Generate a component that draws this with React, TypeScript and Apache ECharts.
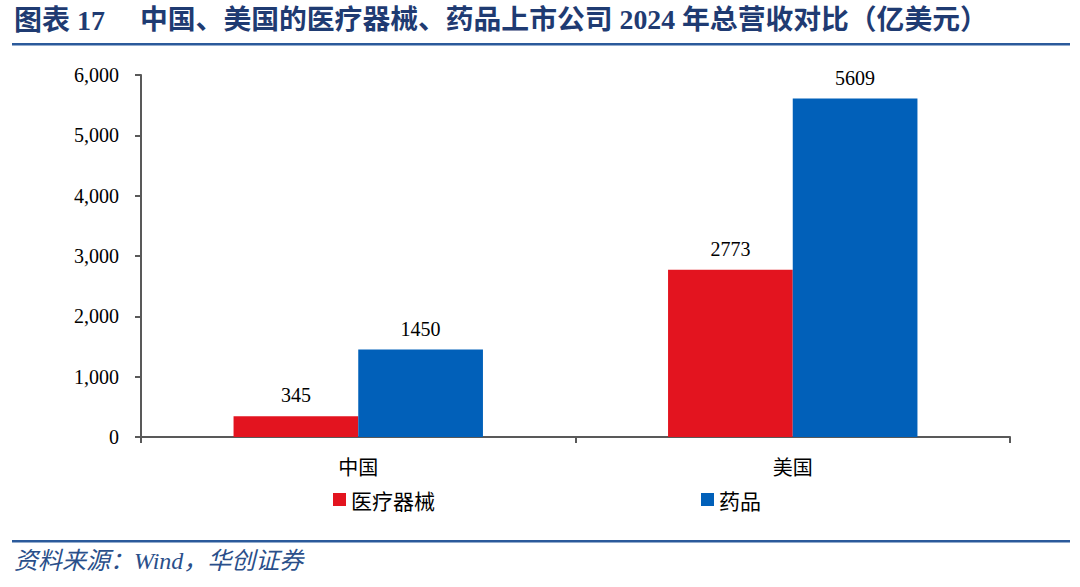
import React, { useEffect, useRef } from "react";
import * as echarts from "echarts";

const categories = ["中国", "美国"];
const seriesNames = ["医疗器械", "药品"];
const deviceValues = [345, 2773];
const drugValues = [1450, 5609];
const yTicks = [0, 1000, 2000, 3000, 4000, 5000, 6000];

const TITLE_NO = "图表 17";
const TITLE = "中国、美国的医疗器械、药品上市公司 2024 年总营收对比（亿美元）";
const SOURCE = "资料来源：Wind，华创证券";

export default function App() {
  const ref = useRef<HTMLDivElement>(null);
  useEffect(() => {
    document.body.style.margin = "0";
    const chart = echarts.init(ref.current!, null, { renderer: "svg" });
    const serif = "'Times New Roman', 'Liberation Serif', 'Noto Sans CJK SC', serif";
    const sans = "'Microsoft YaHei', 'Noto Sans CJK SC', sans-serif";
    chart.setOption({
      animation: false,
      backgroundColor: "#ffffff",
      grid: { left: 141, right: 70, top: 75, bottom: 150, containLabel: false },
      legend: {
        data: seriesNames,
        left: 328,
        top: 484,
        itemWidth: 13,
        itemHeight: 13,
        itemGap: 266,
        icon: "rect",
        textStyle: { fontFamily: sans, fontSize: 21, color: "#000" },
      },
      xAxis: {
        type: "category",
        data: categories,
        axisLine: { lineStyle: { color: "#595959", width: 2 } },
        axisTick: { show: true, length: 6, lineStyle: { color: "#595959", width: 2 } },
        axisLabel: { fontFamily: sans, fontSize: 20, color: "#000", margin: 19 },
      },
      yAxis: {
        type: "value",
        min: yTicks[0],
        max: yTicks[yTicks.length - 1],
        interval: 1000,
        splitLine: { show: false },
        axisLine: { show: true, lineStyle: { color: "#595959", width: 2 } },
        axisTick: { show: true, inside: false, length: 6, lineStyle: { color: "#595959", width: 2 } },
        axisLabel: {
          fontFamily: serif,
          fontSize: 20,
          color: "#000",
          margin: 22,
          formatter: (v: number) => v.toLocaleString("en-US"),
        },
      },
      series: [
        {
          name: seriesNames[0],
          type: "bar",
          data: deviceValues,
          barWidth: "28.7%",
          barGap: "0%",
          itemStyle: { color: "#e3141f" },
          label: { show: true, position: "top", distance: 11, fontFamily: serif, fontSize: 20, color: "#000" },
        },
        {
          name: seriesNames[1],
          type: "bar",
          data: drugValues,
          barWidth: "28.7%",
          barGap: "0%",
          itemStyle: { color: "#0160b9" },
          label: { show: true, position: "top", distance: 11, fontFamily: serif, fontSize: 20, color: "#000" },
        },
      ],
      graphic: [
        {
          type: "text",
          left: 14,
          top: 6,
          style: { text: TITLE_NO, font: `bold 28px ${serif}`, fill: "#1f3b72" },
        },
        {
          type: "text",
          left: 140,
          top: 6,
          style: { text: TITLE, font: `bold 27.8px ${serif}`, fill: "#1f3b72" },
        },
        {
          type: "rect",
          shape: { x: 12, y: 43, width: 1058, height: 2.5 },
          style: { fill: "#2b5a9b" },
        },
        {
          type: "rect",
          shape: { x: 12, y: 540, width: 1058, height: 2.5 },
          style: { fill: "#2b5a9b" },
        },
        {
          type: "text",
          left: 14,
          top: 549,
          style: { text: SOURCE, font: `italic 24px ${serif}`, fill: "#2a4f8a" },
        },
      ],
    });
    return () => chart.dispose();
  }, []);
  return <div ref={ref} style={{ width: 1080, height: 587 }} />;
}
